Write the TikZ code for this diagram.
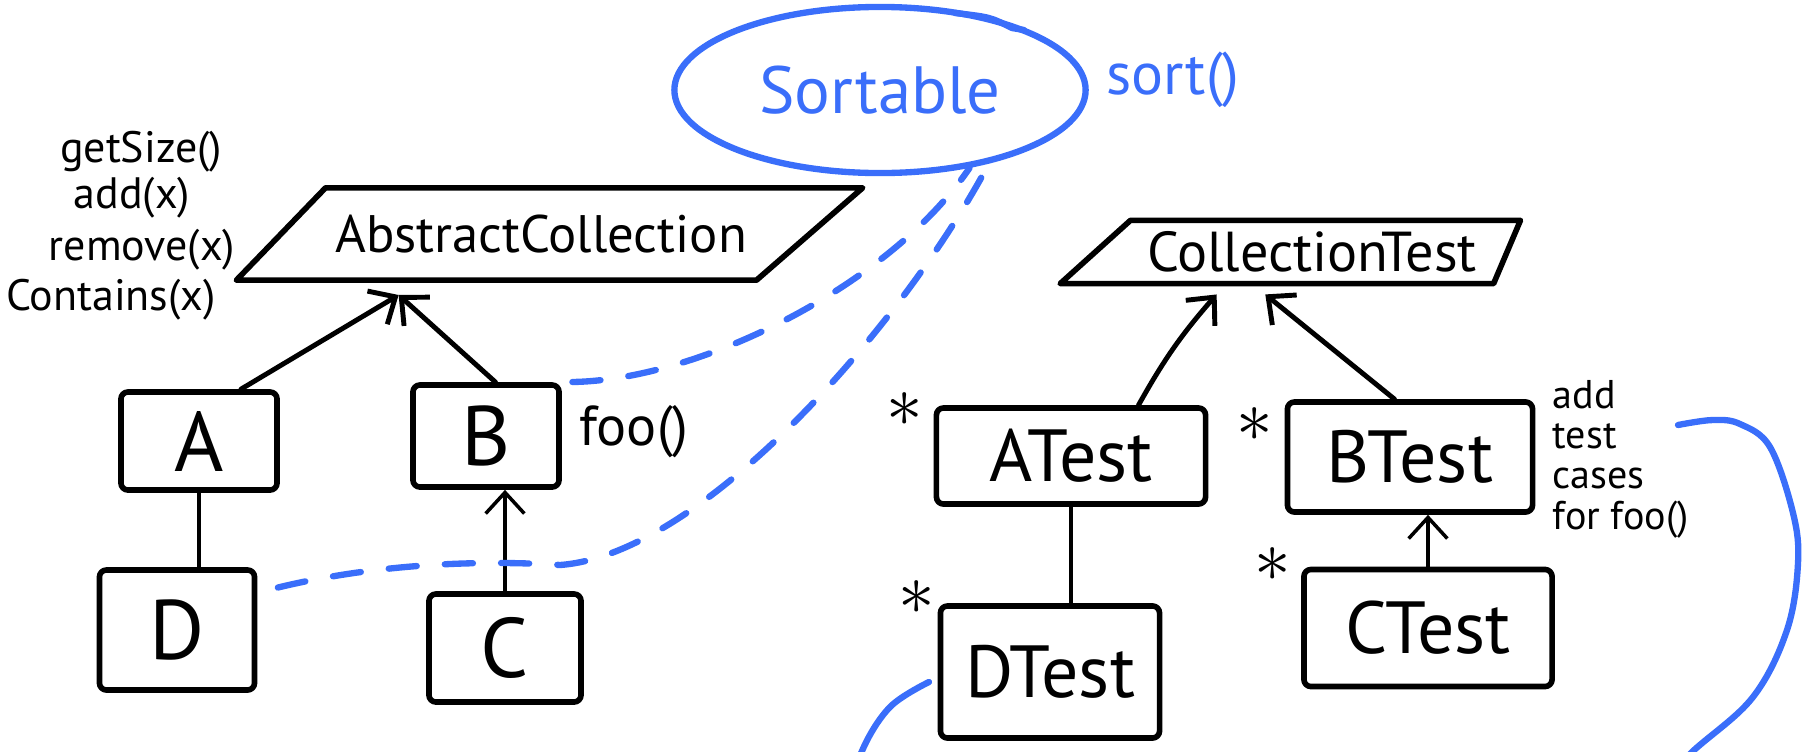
\documentclass[tikz,border=0pt]{standalone}
\usepackage{fontspec}
\setmainfont{PT Sans}
\usetikzlibrary{shapes.geometric,arrows.meta,calc}
\definecolor{penblue}{RGB}{58,110,250}
\newcommand{\hand}[1]{\fontsize{#1}{#1}\selectfont}

\begin{document}
\begin{tikzpicture}[x=0.01cm, y=-0.01cm, line cap=round, line join=round,
	box/.style={draw, line width=1.6pt, rounded corners=2pt, inner sep=0pt, font=\hand{21pt}},
	absbox/.style={draw, trapezium, trapezium stretches body, line width=1.6pt, inner xsep=0pt},
	iface/.style={draw=penblue, text=penblue, ellipse, line width=1.8pt, inner sep=0pt},
	astx/.style={font=\huge, inner sep=0pt},
	note/.style={inner sep=0pt},
	inherit/.style={->, line width=1.4pt},
	link/.style={line width=1pt},
	sketchdash/.style={penblue, line width=1.8pt, dash pattern=on 8pt off 8pt},
	>={Straight Barb[length=6pt,width=11pt]}]
	\useasboundingbox (0,0) rectangle (1809,751);

	% interface
	\node[iface, minimum width=4.11cm, minimum height=1.66cm, font=\hand{19pt}] (sortable) at (880,90) {Sortable};
	\draw[penblue, line width=1.8pt] (955,13) .. controls (990,17) .. (1012,28) -- (1024,30);
	\node[note, text=penblue, font=\hand{17pt}] (sort) at (1173,80) {sort()};

	% collection classes
	\node[absbox, trapezium left angle=46, trapezium right angle=139, inner ysep=7.7pt, minimum width=6.26cm, font=\hand{15pt}] (abscoll) at (541,234) {AbstractCollection};
	\node[note, font=\hand{12.5pt}] (getsize) at (141,152) {getSize()};
	\node[note, font=\hand{12.5pt}] (add) at (132,198) {add(x)};
	\node[note, font=\hand{12.5pt}] (remove) at (142,250) {remove(x)};
	\node[note, font=\hand{12.5pt}] (contains) at (111,300) {Contains(x)};

	\node[box, minimum width=1.56cm, minimum height=0.98cm, font=\hand{24pt}] (A) at (199,441) {A};
	\node[box, minimum width=1.46cm, minimum height=1.02cm, font=\hand{24pt}] (B) at (486,436) {B};
	\node[box, minimum width=1.55cm, minimum height=1.2cm, font=\hand{24pt}] (D) at (177,630) {D};
	\node[box, minimum width=1.52cm, minimum height=1.08cm, font=\hand{24pt}] (C) at (505,648) {C};
	\node[note, font=\hand{16pt}] (foo) at (634,432) {foo()};

	\coordinate (acfoot) at ($(abscoll.bottom left corner)!0.32!(abscoll.bottom right corner)+(0,12)$);
	\draw[inherit] (A.51) -- (acfoot);
	\draw[inherit] (B.80) -- (acfoot);
	\draw[link] (A.south) -- (A.south |- D.north);
	\draw[link, ->] (C.north) -- (C.north |- B.south);

	% test classes
	\node[absbox, trapezium left angle=42, trapezium right angle=113, inner ysep=3.2pt, minimum width=4.6cm, font=\hand{16pt}] (colltest) at (1312,252) {CollectionTest};
	\node[box, minimum width=2.69cm, minimum height=0.96cm] (atest) at (1071,456) {ATest};
	\node[box, minimum width=2.45cm, minimum height=1.1cm] (btest) at (1410,457) {BTest};
	\node[box, minimum width=2.48cm, minimum height=1.17cm] (ctest) at (1428,628) {CTest};
	\node[box, minimum width=2.19cm, minimum height=1.32cm] (dtest) at (1050,672) {DTest};
	\node[astx] (s1) at (905,410) {$\ast$};
	\node[astx] (s2) at (1255,425) {$\ast$};
	\node[astx] (s3) at (917,598) {$\ast$};
	\node[astx] (s4) at (1273,565) {$\ast$};
	\node[note, font=\hand{11.4pt}, align=left, anchor=north west] (testnote) at (1552,380) {add\\test\\cases\\for foo()};

	\coordinate (ctfoot1) at ($(colltest.bottom left corner)!0.37!(colltest.bottom right corner)+(0,8)$);
	\coordinate (ctfoot2) at ($(colltest.bottom left corner)!0.48!(colltest.bottom right corner)+(0,8)$);
	\draw[inherit] (atest.37) to[bend left=6] (ctfoot1);
	\draw[inherit] (btest.105) -- (ctfoot2);
	\draw[link] (atest.south) -- (atest.south |- dtest.north);
	\draw[link, ->] (ctest.north) -- (ctest.north |- btest.south);

	% who is sortable
	\draw[sketchdash, shorten <=3pt] (B.north east) .. controls (700,380) and (890,285) .. (sortable.-41);
	\draw[sketchdash, shorten <=6pt] (D.25) .. controls (350,570) and (450,558) .. (560,565) .. controls (700,555) and (900,330) .. (sortable.-34);
	\begin{scope}
		\clip (0,0) rectangle (1809,751);
		\draw[penblue, line width=1.8pt] plot[smooth, tension=0.6] coordinates {(929,682) (890,707) (862,751) (850,800) (900,880) (1300,920) (1640,800) (1693,751) (1753,697) (1787,630) (1798,563) (1793,513) (1770,447) (1740,424) (1713,420) (1678,425)};
	\end{scope}
\end{tikzpicture}
\end{document}
